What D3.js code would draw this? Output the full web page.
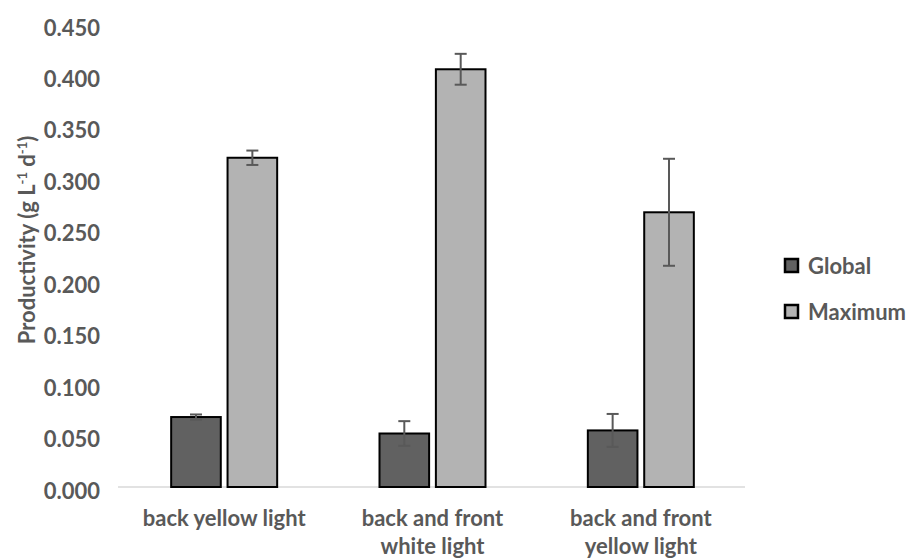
<!DOCTYPE html>
<html>
<head>
<meta charset="utf-8">
<script src="https://cdn.jsdelivr.net/npm/d3@7"></script>
<style>
  body { margin: 0; background: #fff; }
  text { font-family: Lato, "Open Sans", sans-serif; font-weight: 700; fill: #595959; }
</style>
</head>
<body>
<div id="chart"></div>
<script>
// Data
var categories = ["back yellow light", "back and front\nwhite light", "back and front\nyellow light"]
var series = ["Global", "Maximum"]
var globalValues = [0.068, 0.052, 0.055]
var globalErrors = [0.0025, 0.012, 0.016]
var maximumValues = [0.320, 0.406, 0.267]
var maximumErrors = [0.007, 0.015, 0.052]
var yTicks = [0, 0.05, 0.1, 0.15, 0.2, 0.25, 0.3, 0.35, 0.4, 0.45]

var colors = { Global: "#616161", Maximum: "#b3b3b3" }

var width = 907, height = 559
var margin = { top: 24, right: 162, bottom: 72, left: 120 }

var svg = d3.select("#chart").append("svg")
  .attr("width", width)
  .attr("height", height)

var x0 = d3.scaleBand()
  .domain(categories)
  .range([margin.left, width - margin.right])

var x1 = d3.scaleBand()
  .domain(series)
  .range([0, 106])
  .paddingInner(0.12)

var y = d3.scaleLinear()
  .domain([0, 0.45])
  .range([height - margin.bottom, margin.top])

// Y axis (labels only)
var yAxis = d3.axisLeft(y)
  .tickValues(yTicks)
  .tickFormat(d3.format(".3f"))
  .tickSize(0)
  .tickPadding(0)

svg.append("g")
  .attr("class", "y axis")
  .attr("transform", "translate(100,0)")
  .call(yAxis)
  .call(g => g.select(".domain").remove())
  .call(g => g.selectAll(".tick text")
    .attr("dy", "0.5em")
    .style("font-size", "22px")
    .style("font-family", "Lato, sans-serif")
    .attr("fill", "#595959"))

// Baseline
svg.append("line")
  .attr("x1", margin.left - 2)
  .attr("x2", width - margin.right)
  .attr("y1", y(0))
  .attr("y2", y(0))
  .attr("stroke", "#d9d9d9")
  .attr("stroke-width", 1.5)

var rows = []
categories.forEach((c, i) => {
  rows.push({ cat: c, key: "Global", value: globalValues[i], err: globalErrors[i] })
  rows.push({ cat: c, key: "Maximum", value: maximumValues[i], err: maximumErrors[i] })
})

var offset = (x0.bandwidth() - 106) / 2
var bars = svg.append("g").attr("class", "bars")

bars.selectAll("rect")
  .data(rows)
  .enter().append("rect")
  .attr("x", d => x0(d.cat) + offset + x1(d.key))
  .attr("y", d => y(d.value))
  .attr("width", x1.bandwidth())
  .attr("height", d => y(0) - y(d.value))
  .attr("fill", d => colors[d.key])
  .attr("stroke", "#000")
  .attr("stroke-width", 2)

// Error bars
var errs = svg.append("g").attr("class", "errors")
  .selectAll("g")
  .data(rows)
  .enter().append("g")
  .attr("stroke", "#595959")
  .attr("stroke-width", 2)

var cx = d => x0(d.cat) + offset + x1(d.key) + x1.bandwidth() / 2
errs.append("line")
  .attr("x1", cx).attr("x2", cx)
  .attr("y1", d => y(d.value + d.err))
  .attr("y2", d => y(d.value - d.err))
errs.append("line")
  .attr("x1", d => cx(d) - 6).attr("x2", d => cx(d) + 6)
  .attr("y1", d => y(d.value + d.err))
  .attr("y2", d => y(d.value + d.err))
errs.append("line")
  .attr("x1", d => cx(d) - 6).attr("x2", d => cx(d) + 6)
  .attr("y1", d => y(d.value - d.err))
  .attr("y2", d => y(d.value - d.err))

// Category labels
var catLabels = svg.append("g").attr("class", "x axis")
  .selectAll("text")
  .data(categories)
  .enter().append("text")
  .attr("text-anchor", "middle")
  .attr("x", d => x0(d) + x0.bandwidth() / 2)
  .attr("y", 526)
  .style("font-size", "22px")

catLabels.each(function(d) {
  var lines = d.split("\n")
  var t = d3.select(this)
  lines.forEach((l, i) => {
    t.append("tspan")
      .attr("x", t.attr("x"))
      .attr("dy", i === 0 ? 0 : 28)
      .text(l)
  })
})

// Y title
svg.append("text")
  .attr("transform", "translate(35," + 240 + ") rotate(-90)")
  .attr("text-anchor", "middle")
  .style("font-size", "22px")
  .html('Productivity (g L<tspan baseline-shift="super" font-size="13px">-1</tspan> d<tspan baseline-shift="super" font-size="13px">-1</tspan>)')

// Legend
var legend = svg.append("g").attr("class", "legend")
  .selectAll("g")
  .data(series)
  .enter().append("g")
  .attr("transform", (d, i) => "translate(785," + (259 + i * 46) + ")")

legend.append("rect")
  .attr("width", 13)
  .attr("height", 13)
  .attr("fill", d => colors[d])
  .attr("stroke", "#000")
  .attr("stroke-width", 2.5)

legend.append("text")
  .attr("x", 23)
  .attr("y", 7)
  .attr("dy", "0.35em")
  .style("font-size", "22px")
  .text(d => d)
</script>
</body>
</html>
